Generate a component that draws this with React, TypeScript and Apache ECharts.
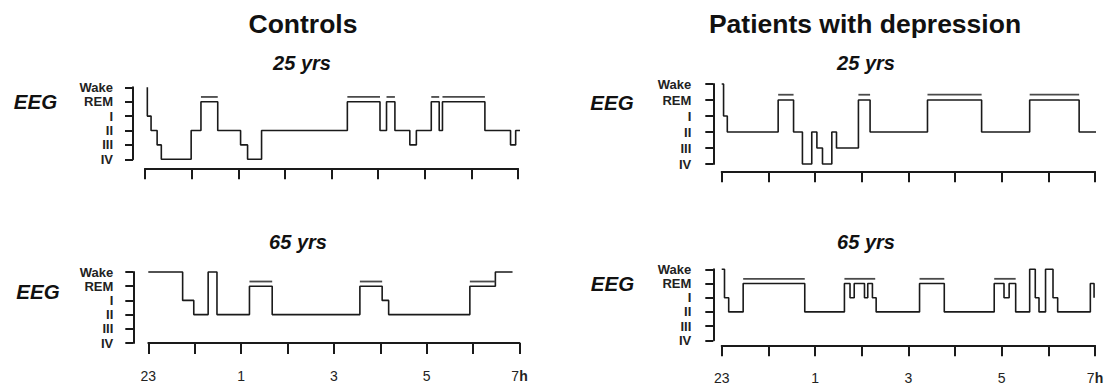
import React, { useEffect, useRef } from 'react';
import * as echarts from 'echarts';

// Sleep stage codes on the y axis: 0 = IV ... 5 = Wake
const stageLabels = ['IV', 'III', 'II', 'I', 'REM', 'Wake'];
// x axis: hours after 23:00, labelled every two hours
const hourLabels = ['23', '', '1', '', '3', '', '5', '', '7h'];

// Hypnograms as [hour, stage]; each stage lasts until the next entry
const controls25 = [
  [0.05, 5], [0.05, 3], [0.13, 2], [0.26, 1], [0.35, 0], [0.99, 2], [1.2, 4], [1.56, 2],
  [2.05, 1], [2.2, 0], [2.5, 2], [4.34, 4], [5.04, 2], [5.18, 4], [5.36, 2], [5.68, 1],
  [5.82, 2], [6.14, 4], [6.31, 2], [6.38, 4], [7.29, 2], [7.84, 1], [7.95, 2], [8.15, 2],
];
const controls25Rem = [[1.2, 1.56], [4.34, 5.04], [5.18, 5.36], [6.14, 6.31], [6.38, 7.29]];

const patients25 = [
  [0, 5], [0.04, 3], [0.12, 2], [1.21, 4], [1.54, 2], [1.73, 0], [1.93, 2], [2.04, 1],
  [2.16, 0], [2.36, 2], [2.46, 1], [2.93, 4], [3.18, 2], [4.41, 4], [5.57, 2], [6.6, 4],
  [7.66, 2], [8.3, 2],
];
const patients25Rem = [[1.21, 1.54], [2.93, 3.18], [4.41, 5.57], [6.6, 7.66]];

const controls65 = [
  [0, 5], [0.74, 3], [0.98, 2], [1.29, 5], [1.48, 2], [2.18, 4], [2.67, 2], [4.56, 4],
  [5.04, 3], [5.18, 2], [6.93, 4], [7.48, 5], [7.85, 5],
];
const controls65Rem = [[2.18, 2.67], [4.56, 5.04], [6.93, 7.48]];

const patients65 = [
  [0, 5], [0.06, 3], [0.15, 2], [0.46, 4], [1.78, 2], [2.63, 4], [2.75, 3], [2.84, 4],
  [3.06, 3], [3.13, 4], [3.23, 3], [3.31, 2], [4.24, 4], [4.77, 2], [5.84, 4], [6.05, 3],
  [6.16, 4], [6.3, 2], [6.6, 5], [6.72, 3], [6.8, 2], [6.94, 5], [7.1, 3], [7.2, 2],
  [7.9, 4], [7.98, 3],
];
const patients65Rem = [[0.46, 1.78], [2.63, 3.29], [4.24, 4.77], [5.84, 6.3]];

const FONT = "'Liberation Sans', Arial, Helvetica, sans-serif";
const INK = '#1a1a1a';
const REM_BAR = 4.33;

const panels = [
  { data: controls25, rem: controls25Rem, grid: { left: 145, top: 87.3, width: 373, height: 72 }, yOff: 12, xOff: 9, labelGap: 20, labels: false },
  { data: patients25, rem: patients25Rem, grid: { left: 721.7, top: 84, width: 373.3, height: 80 }, yOff: 8.4, xOff: 7.3, labelGap: 22, labels: false },
  { data: controls65, rem: controls65Rem, grid: { left: 148.3, top: 272, width: 371.2, height: 71 }, yOff: 15, xOff: 0, labelGap: 20, labels: true },
  { data: patients65, rem: patients65Rem, grid: { left: 721.7, top: 269.3, width: 373.3, height: 71 }, yOff: 8.4, xOff: 5, labelGap: 22, labels: true },
];

const texts = [
  { t: 'Controls', x: 303, y: 24, font: `bold 26.5px ${FONT}` },
  { t: 'Patients with depression', x: 865, y: 24, font: `bold 26.5px ${FONT}` },
  { t: '25 yrs', x: 302, y: 63, font: `italic bold 20px ${FONT}` },
  { t: '25 yrs', x: 866, y: 63, font: `italic bold 20px ${FONT}` },
  { t: '65 yrs', x: 298, y: 242, font: `italic bold 20px ${FONT}` },
  { t: '65 yrs', x: 866, y: 242, font: `italic bold 20px ${FONT}` },
  { t: 'EEG', x: 35.5, y: 101, font: `italic bold 20.5px ${FONT}` },
  { t: 'EEG', x: 612, y: 102, font: `italic bold 20.5px ${FONT}` },
  { t: 'EEG', x: 38, y: 291, font: `italic bold 20.5px ${FONT}` },
  { t: 'EEG', x: 612.5, y: 283, font: `italic bold 20.5px ${FONT}` },
];

export default function App() {
  const ref = useRef<HTMLDivElement>(null);

  useEffect(() => {
    if (!ref.current) return;
    const chart = echarts.init(ref.current, undefined, { renderer: 'svg' });

    const grid = panels.map((p) => ({ ...p.grid, containLabel: false }));

    const xAxis = panels.map((p, i) => ({
      type: 'value',
      gridIndex: i,
      min: 0,
      max: 8,
      interval: 1,
      offset: p.xOff,
      axisLine: { show: true, onZero: false, lineStyle: { color: INK, width: 2 } },
      axisTick: { show: true, inside: false, length: 11, lineStyle: { color: INK, width: 2 } },
      splitLine: { show: false },
      axisLabel: {
        show: p.labels,
        margin: 26,
        color: '#222',
        fontFamily: FONT,
        fontSize: 14,
        formatter: (v: number) => {
          const s = hourLabels[Math.round(v)] ?? '';
          return s === '7h' ? '7{b|h}' : s;
        },
        rich: { b: { fontFamily: FONT, fontSize: 14, fontWeight: 'bold', color: '#222' } },
      },
    }));

    const yAxis = panels.map((p, i) => ({
      type: 'value',
      gridIndex: i,
      min: 0,
      max: 5,
      interval: 1,
      offset: p.yOff,
      axisLine: { show: true, onZero: false, lineStyle: { color: INK, width: 2 } },
      axisTick: { show: true, inside: false, length: 8, lineStyle: { color: INK, width: 2 } },
      splitLine: { show: false },
      axisLabel: {
        margin: p.labelGap,
        color: '#222',
        fontFamily: FONT,
        fontSize: 13,
        fontWeight: 'bold',
        formatter: (v: number) => stageLabels[Math.round(v)] ?? '',
      },
    }));

    const series: any[] = [];
    panels.forEach((p, i) => {
      series.push({
        type: 'line',
        step: 'end',
        xAxisIndex: i,
        yAxisIndex: i,
        data: p.data,
        symbol: 'none',
        clip: false,
        lineStyle: { color: INK, width: 1.6 },
      });
      p.rem.forEach(([s, e]) => {
        series.push({
          type: 'line',
          xAxisIndex: i,
          yAxisIndex: i,
          data: [[s, REM_BAR], [e, REM_BAR]],
          symbol: 'none',
          clip: false,
          lineStyle: { color: '#4a4a4a', width: 1.8 },
        });
      });
    });

    chart.setOption({
      animation: false,
      backgroundColor: '#ffffff',
      grid,
      xAxis,
      yAxis,
      series,
      graphic: texts.map((t) => ({
        type: 'text',
        x: t.x,
        y: t.y,
        style: { text: t.t, font: t.font, fill: '#111', align: 'center', verticalAlign: 'middle' },
      })),
    });

    return () => chart.dispose();
  }, []);

  return (
    <div
      ref={ref}
      style={{ position: 'absolute', left: 0, top: 0, width: 1115, height: 387 }}
    />
  );
}
